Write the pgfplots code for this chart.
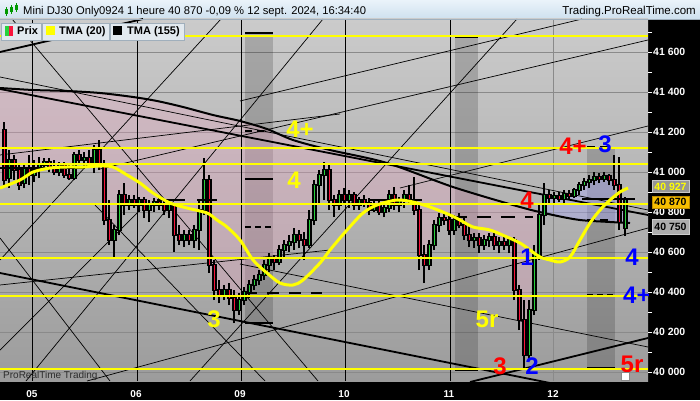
\documentclass[border=0pt]{standalone}
\usepackage{fontspec}
\setmainfont{Liberation Sans}
\usepackage{pgfplots}
\pgfplotsset{compat=1.18}
\usepackage{pgfplotstable}

\definecolor{bgtop}{RGB}{203,203,203}
\definecolor{bgbot}{RGB}{156,156,156}
\definecolor{hdtop}{RGB}{234,243,250}
\definecolor{hdbot}{RGB}{206,224,238}
\definecolor{legbg}{RGB}{226,233,239}
\definecolor{legbd}{RGB}{160,175,188}
\definecolor{gridc}{RGB}{138,138,138}
\definecolor{pinkc}{RGB}{236,168,196}
\definecolor{lavc}{RGB}{168,168,250}
\definecolor{cred}{RGB}{250,20,60}
\definecolor{cgreen}{RGB}{40,210,60}
\definecolor{ylw}{RGB}{255,255,0}
\definecolor{rd}{RGB}{255,0,0}
\definecolor{bl}{RGB}{0,0,255}

% hourly candles: x (time position), open, high, low, close
\pgfplotstableread{
x o h l c
4 41210 41250 40935 40960
9 40970 41110 40920 41060
14 41060 41085 40960 41010
19 41010 41035 40910 40935
24 40945 41035 40920 41020
29 41020 41085 40935 40985
34 40985 41060 40950 41010
39 41010 41075 40970 41035
44 41035 41070 41010 41050
49 41050 41070 41000 41020
54 41020 41060 40985 41000
59 41000 41050 40980 41035
64 41035 41050 40970 40985
69 40985 41035 40960 40970
74 40970 41100 40960 41085
79 41085 41110 41035 41060
84 41060 41100 41030 41070
89 41070 41110 41020 41035
94 41035 41135 40995 41110
99 41110 41160 41010 41035
104 41035 41060 40735 40760
109 40760 40860 40635 40660
114 40660 40735 40575 40710
119 40710 40910 40685 40885
124 40885 40945 40785 40835
129 40835 40885 40810 40860
134 40860 40885 40820 40835
139 40835 40875 40800 40860
144 40860 40875 40770 40810
149 40810 40860 40750 40835
154 40835 40870 40800 40850
159 40850 40870 40810 40835
164 40835 40860 40785 40810
169 40810 40860 40770 40835
174 40835 40845 40600 40685
179 40685 40735 40635 40660
184 40660 40710 40625 40685
189 40685 40710 40635 40660
194 40660 40735 40620 40710
199 40710 40860 40610 40810
204 40810 41070 40785 40960
209 40960 40985 40495 40535
214 40535 40560 40360 40410
219 40410 40460 40345 40385
224 40385 40435 40360 40410
229 40410 40445 40335 40370
234 40370 40410 40245 40310
239 40310 40395 40285 40360
244 40360 40425 40335 40400
249 40400 40460 40370 40435
254 40435 40485 40410 40460
259 40460 40510 40435 40485
264 40485 40560 40460 40535
269 40535 40595 40500 40570
274 40570 40585 40510 40550
279 40550 40635 40535 40610
284 40610 40660 40570 40635
289 40635 40685 40600 40650
294 40650 40720 40610 40685
299 40685 40710 40620 40660
304 40660 40700 40560 40635
309 40635 40810 40620 40760
314 40760 40960 40735 40935
319 40935 41010 40835 40985
324 40985 41050 40860 41010
329 41010 41035 40810 40860
334 40860 40885 40775 40835
339 40835 40910 40810 40885
344 40885 40920 40835 40860
349 40860 40910 40820 40885
354 40885 40900 40810 40835
359 40835 40875 40810 40860
364 40860 40885 40825 40845
369 40845 40870 40785 40810
374 40810 40860 40800 40835
379 40835 40860 40785 40800
384 40800 40845 40775 40820
389 40820 40910 40800 40885
394 40885 40925 40810 40835
399 40835 40875 40800 40860
404 40860 40910 40820 40885
409 40885 40935 40835 40860
414 40860 40975 40785 40810
419 40810 40835 40510 40585
424 40585 40635 40445 40535
429 40535 40660 40510 40635
434 40635 40760 40610 40735
439 40735 40795 40700 40770
444 40770 40795 40735 40760
449 40760 40785 40685 40710
454 40710 40785 40685 40760
459 40760 40795 40720 40735
464 40735 40770 40660 40685
469 40685 40735 40625 40660
474 40660 40695 40620 40670
479 40670 40695 40595 40635
484 40635 40685 40610 40660
489 40660 40695 40625 40675
494 40675 40695 40610 40635
499 40635 40675 40595 40650
504 40650 40675 40610 40635
509 40635 40675 40595 40660
514 40660 40675 40360 40410
519 40410 40435 40210 40260
524 40260 40360 40020 40085
529 40085 40360 40060 40310
534 40310 40635 40285 40585
539 40585 40835 40560 40785
544 40785 40945 40735 40885
549 40885 40910 40835 40870
554 40870 40900 40845 40880
559 40880 40900 40850 40865
564 40865 40910 40845 40890
569 40890 40910 40860 40880
574 40880 40920 40870 40910
579 40910 40950 40885 40935
584 40935 40970 40910 40950
589 40950 40985 40920 40960
594 40960 41000 40935 40975
599 40975 40995 40945 40965
604 40965 41000 40950 40980
609 40980 40990 40935 40960
614 40960 41085 40910 40935
619 40935 41075 40710 40750
625 40720 40875 40680 40865
}\candles

\newcommand{\lbl}{\bfseries\fontsize{24}{24}\selectfont}

\begin{document}
\begin{tikzpicture}
\begin{scope}[x=1pt,y=1pt]
\fill[black] (648,19) rectangle (700,381);
\fill[black] (0,0) rectangle (700,19);
\shade[top color=hdtop, bottom color=hdbot] (0,381) rectangle (700,400);
\end{scope}

\begin{axis}[
  at={(0pt,19pt)}, anchor=south west,
  scale only axis, width=648pt, height=362pt,
  xmin=0, xmax=648, ymin=39955, ymax=41765,
  axis background/.style={shade, top color=bgtop, bottom color=bgbot},
  axis line style={draw=none},
  scaled y ticks=false, scaled x ticks=false,
  xtick={32,136,240,344,449,553},
  xticklabels={05,06,09,10,11,12},
  xtick style={draw=none},
  xticklabel style={text=white, font=\bfseries\fontsize{10}{10}\selectfont, inner sep=0pt, yshift=-5pt},
  ytick={40000,40200,...,41600},
  yticklabels={40 000,40 200,40 400,40 600,40 800,41 000,41 200,41 400,41 600},
  minor ytick={40100,40300,...,41700},
  ytick pos=right, yticklabel pos=right,
  tick align=outside, major tick length=4pt, minor tick length=4pt,
  every tick/.style={white, line width=0.8pt},
  yticklabel style={text=white, font=\bfseries\fontsize{10.5}{10.5}\selectfont, anchor=west, inner sep=1pt},
  ymajorgrids, major grid style={gridc, line width=0.6pt},
]

% shaded time bands
\addplot[fill=black, fill opacity=0.17, draw=none] coordinates {(245,40245) (273,40245) (273,41695) (245,41695)} --cycle;
\addplot[fill=black, fill opacity=0.17, draw=none] coordinates {(455,40010) (478,40010) (478,41675) (455,41675)} --cycle;
\addplot[fill=black, fill opacity=0.17, draw=none] coordinates {(587,40020) (615,40020) (615,41125) (587,41125)} --cycle;

% cloud between TMA (155) and price: below the average
\addplot[fill=pinkc, fill opacity=0.33, draw=none] coordinates {
(0,41420) (33,41410) (67,41405) (100,41395) (133,41375) (157,41355) (183,41325)
(213,41285) (240,41255) (267,41215) (293,41160) (330,41110) (387,41045) (453,40925)
(520,40825) (540,40800)
(539,40785) (534,40585) (529,40310) (524,40085) (519,40260) (514,40410) (509,40660)
(504,40635) (499,40650) (494,40635) (489,40675) (484,40660) (479,40635) (474,40670)
(469,40660) (464,40685) (459,40735) (454,40760) (449,40710) (444,40760) (439,40770)
(434,40735) (429,40635) (424,40535) (419,40585) (414,40810) (409,40860) (404,40885)
(399,40860) (394,40835) (389,40885) (384,40820) (379,40800) (374,40835) (369,40810)
(364,40845) (359,40860) (354,40835) (349,40885) (344,40860) (339,40885) (334,40835)
(329,40860) (324,41010) (319,40985) (314,40935) (309,40760) (304,40635) (299,40660)
(294,40685) (289,40650) (284,40635) (279,40610) (274,40550) (269,40570) (264,40535)
(259,40485) (254,40460) (249,40435) (244,40400) (239,40360) (234,40310) (229,40370)
(224,40410) (219,40385) (214,40410) (209,40535) (204,40960) (199,40810) (194,40710)
(189,40660) (184,40685) (179,40660) (174,40685) (169,40835) (164,40810) (159,40835)
(154,40850) (149,40835) (144,40810) (139,40860) (134,40835) (129,40860) (124,40835)
(119,40885) (114,40710) (109,40660) (104,40760) (99,41035) (94,41110) (89,41035)
(84,41070) (79,41060) (74,41085) (69,40970) (64,40985) (59,41035) (54,41000)
(49,41020) (44,41050) (39,41035) (34,41010) (29,40985) (24,41020) (19,40935)
(14,41010) (9,41060) (4,40960) (0,40960)} --cycle;
% cloud above the average
\addplot[fill=lavc, fill opacity=0.4, draw=none] coordinates {
(540,40800) (544,40885) (549,40870) (554,40880) (559,40865) (564,40890) (569,40880)
(574,40910) (579,40935) (584,40950) (589,40960) (594,40975) (599,40965) (604,40980)
(609,40960) (614,40935) (619,40750) (625,40865) (630,40745) (610,40750) (580,40760)
(553,40785)} --cycle;

% day separators
\addplot[black, line width=0.8pt] coordinates {(32,39955) (32,41765)};
\addplot[black, line width=0.8pt] coordinates {(137,39955) (137,41765)};
\addplot[black, line width=0.8pt] coordinates {(241,39955) (241,41765)};
\addplot[black, line width=0.8pt] coordinates {(345,39955) (345,41765)};
\addplot[black, line width=0.8pt] coordinates {(450,39955) (450,41765)};
\addplot[gridc, line width=0.8pt] coordinates {(553,39955) (553,41765)};

% thin trend / fan lines
\pgfplotsset{thin line/.style={black, line width=0.7pt}}
\addplot[thin line] coordinates {(12,41765) (318,39955)};
\addplot[thin line] coordinates {(0,40560) (221,41765)};
\addplot[thin line] coordinates {(26,39955) (323,41765)};
\addplot[thin line] coordinates {(190,39955) (517,41765)};
\addplot[thin line] coordinates {(0,41085) (340,41290)};
\addplot[thin line] coordinates {(100,41015) (648,41660)};
\addplot[thin line] coordinates {(240,41355) (582,41765)};
\addplot[thin line] coordinates {(400,40920) (648,41230)};
\addplot[thin line] coordinates {(0,40670) (110,39955)};
\addplot[thin line] coordinates {(87,39955) (648,40720)};
\addplot[thin line] coordinates {(240,40540) (648,40125)};
\addplot[thin line] coordinates {(0,41475) (648,40810)};
\addplot[thin line] coordinates {(95,40835) (265,39955)};
\addplot[thin line] coordinates {(0,40110) (140,40810)};
\addplot[thin line] coordinates {(0,40435) (330,40610)};

% thick trend lines and TMA (155)
\addplot[black, line width=1.8pt] coordinates {(0,41415) (648,40785)};
\addplot[black, line width=1.8pt] coordinates {(0,40495) (560,39935)};
\addplot[black, line width=1.8pt] coordinates {(470,39950) (648,40170)};
\addplot[black, line width=1.8pt] coordinates {(0,41600) (143,41765)};
\addplot[black, line width=2pt, smooth] coordinates {
(0,41420) (33,41410) (67,41405) (100,41395) (133,41375) (157,41355) (183,41325)
(213,41285) (240,41255) (267,41215) (293,41160) (330,41110) (387,41045) (453,40925)
(520,40825) (553,40785) (580,40760) (610,40750) (630,40745)};

% candles: wicks, bodies, coloured cores
\addplot[draw=none, mark=none, error bars/.cd, y dir=plus, y explicit, error mark=none,
  error bar style={draw=black, line width=2.3pt}]
  table[x=x, y=l, y error expr=\thisrow{h}-\thisrow{l}] {\candles};
\addplot[draw=none, mark=none, error bars/.cd, y dir=plus, y explicit, error mark=none,
  error bar style={draw=black, line width=5pt}]
  table[x=x, y expr={min(\thisrow{o},\thisrow{c})-5}, y error expr={abs(\thisrow{o}-\thisrow{c})+10}] {\candles};
\addplot[draw=none, mark=none, error bars/.cd, y dir=plus, y explicit, error mark=none,
  error bar style={draw=cred, line width=1pt}]
  table[x=x, y=c, y error expr={max(\thisrow{o}-\thisrow{c},0)}] {\candles};
\addplot[draw=none, mark=none, error bars/.cd, y dir=plus, y explicit, error mark=none,
  error bar style={draw=cgreen, line width=1pt}]
  table[x=x, y=o, y error expr={max(\thisrow{c}-\thisrow{o},0)}] {\candles};

% black level bars
\pgfplotsset{lvl/.style={black, line width=2.5pt}}
\addplot[lvl] coordinates {(0,41020) (85,41020)};
\addplot[lvl] coordinates {(157,40860) (185,40860)};
\addplot[lvl] coordinates {(197,40860) (217,40860)};
\addplot[lvl] coordinates {(368,40860) (422,40860)};
\addplot[lvl] coordinates {(582,40865) (635,40865)};
\addplot[lvl] coordinates {(245,41695) (273,41695)};
\addplot[lvl, dash pattern=on 7pt off 5pt] coordinates {(245,41205) (264,41205)};
\addplot[lvl] coordinates {(245,40965) (273,40965)};
\addplot[lvl, dash pattern=on 6pt off 4pt] coordinates {(245,40725) (273,40725)};
\addplot[lvl, dash pattern=on 12pt off 10pt] coordinates {(245,40395) (322,40395)};
\addplot[lvl] coordinates {(245,40245) (273,40245)};
\addplot[lvl] coordinates {(455,41675) (478,41675)};
\addplot[lvl, dash pattern=on 6pt off 6pt] coordinates {(455,41120) (474,41120)};
\addplot[lvl, dash pattern=on 14pt off 10pt] coordinates {(453,40775) (533,40775)};
\addplot[lvl, dash pattern=on 6pt off 6pt] coordinates {(455,40570) (474,40570)};
\addplot[lvl] coordinates {(455,40010) (478,40010)};
\addplot[lvl, dash pattern=on 8pt off 5pt] coordinates {(587,41125) (608,41125)};
\addplot[lvl, dash pattern=on 8pt off 5pt] coordinates {(587,40760) (612,40760)};
\addplot[lvl] coordinates {(587,40570) (615,40570)};
\addplot[lvl, dash pattern=on 6pt off 4pt] coordinates {(587,40385) (614,40385)};
\addplot[lvl] coordinates {(587,40020) (615,40020)};

% yellow horizontal levels
\addplot[ylw, line width=1.2pt] coordinates {(0,41680) (648,41680)};
\addplot[ylw, line width=1.2pt] coordinates {(0,41120) (648,41120)};
\addplot[ylw, line width=1.2pt] coordinates {(0,41040) (648,41040)};
\addplot[ylw, line width=2pt] coordinates {(0,40840) (648,40840)};
\addplot[ylw, line width=1.2pt] coordinates {(0,40570) (648,40570)};
\addplot[ylw, line width=1.2pt] coordinates {(0,40380) (648,40380)};
\addplot[ylw, line width=1.2pt] coordinates {(0,40015) (648,40015)};

% TMA (20)
\addplot[ylw, line width=3pt, smooth] coordinates {
(0,40920) (20,40960) (33,41000) (50,41020) (67,41025) (83,41025) (100,41030)
(113,41025) (127,40985) (140,40945) (153,40895) (170,40845) (187,40820) (207,40795)
(217,40760) (227,40725) (240,40660) (253,40560) (267,40495) (280,40445) (293,40435)
(303,40460) (320,40545) (330,40610) (347,40710) (363,40795) (377,40835) (397,40860)
(413,40850) (430,40825) (450,40785) (460,40760) (473,40725) (490,40710) (507,40675)
(520,40645) (530,40610) (540,40575) (550,40560) (560,40550) (570,40575) (580,40660)
(590,40745) (600,40810) (610,40860) (620,40900) (628,40920)};

% wave labels
\node[text=ylw, font=\lbl] at (axis cs:300,41215) {4+};
\node[text=ylw, font=\lbl] at (axis cs:294,40960) {4};
\node[text=ylw, font=\lbl] at (axis cs:214,40265) {3};
\node[text=ylw, font=\lbl] at (axis cs:487,40265) {5r};
\node[text=rd, font=\lbl] at (axis cs:527,40860) {4};
\node[text=rd, font=\lbl] at (axis cs:573,41130) {4+};
\node[text=bl, font=\lbl] at (axis cs:605,41140) {3};
\node[text=bl, font=\lbl] at (axis cs:527,40575) {1};
\node[text=bl, font=\lbl] at (axis cs:632,40575) {4};
\node[text=bl, font=\lbl, anchor=west, inner sep=0pt] at (axis cs:623,40385) {4+};
\node[text=rd, font=\lbl] at (axis cs:500,40030) {3};
\node[text=bl, font=\lbl] at (axis cs:532,40030) {2};
\node[text=rd, font=\lbl] at (axis cs:632,40040) {5r};
\end{axis}

\begin{scope}[x=1pt,y=1pt]
% header
\draw[legbd, line width=0.6pt] (0,381) -- (700,381);
\fill[green!60!black] (5,386) rectangle (7.5,391);
\fill[green!60!black] (10,388) rectangle (12.5,393);
\fill[green!60!black] (15,390) rectangle (17.5,395);
\draw[green!60!black, line width=0.5pt] (6.25,384) -- (6.25,393) (11.25,386) -- (11.25,395) (16.25,388) -- (16.25,397);
\node[anchor=base west, inner sep=0pt, font=\fontsize{11.2}{11.2}\selectfont] at (23,385) {Mini DJ30 Only0924 1 heure 40 870 -0,09 \% 12 sept. 2024, 16:34:40};
\node[anchor=base east, inner sep=0pt, font=\fontsize{11.5}{11.5}\selectfont] at (696,385) {Trading.ProRealTime.com};
% legend boxes
\draw[fill=legbg, draw=legbd, line width=0.6pt] (1,360) rectangle (41,377);
\draw[fill=legbg, draw=legbd, line width=0.6pt] (42,360) rectangle (109,377);
\draw[fill=legbg, draw=legbd, line width=0.6pt] (110,360) rectangle (184,377);
\fill[cgreen] (5,364) rectangle (9,374);
\fill[cred] (9,364) rectangle (13,374);
\fill[ylw] (46,364.5) rectangle (55,373.5);
\fill[black] (113,364.5) rectangle (122,373.5);
\node[anchor=base west, inner sep=0pt, font=\bfseries\fontsize{11}{11}\selectfont] at (17,365) {Prix};
\node[anchor=base west, inner sep=0pt, font=\bfseries\fontsize{11}{11}\selectfont] at (59,365) {TMA (20)};
\node[anchor=base west, inner sep=0pt, font=\bfseries\fontsize{11}{11}\selectfont] at (127,365) {TMA (155)};
% watermark
\node[anchor=west, inner sep=0pt, text={rgb,255:red,45;green,45;blue,45}, font=\fontsize{10}{10}\selectfont] at (3,24) {ProRealTime Trading};
\draw[fill=white, draw=gridc] (621,20) rectangle (629,28);
% price flags on the scale
\draw[fill={rgb,255:red,150;green,150;blue,150}, draw={rgb,255:red,200;green,200;blue,200}] (652,207.5) rectangle (689,219.5);
\node[text=ylw, font=\bfseries\fontsize{10.5}{10.5}\selectfont, inner sep=0pt] at (670.5,213.5) {40 927};
\draw[fill={rgb,255:red,245;green,190;blue,0}, draw={rgb,255:red,190;green,140;blue,0}] (652,191.5) rectangle (689,204);
\node[text=black, font=\bfseries\fontsize{10.5}{10.5}\selectfont, inner sep=0pt] at (670.5,197.8) {40 870};
\draw[fill={rgb,255:red,172;green,172;blue,172}, draw={rgb,255:red,205;green,205;blue,205}] (652,166) rectangle (689,181);
\node[text=black, font=\bfseries\fontsize{10.5}{10.5}\selectfont, inner sep=0pt] at (670.5,173.5) {40 750};
\end{scope}
\pgfresetboundingbox
\useasboundingbox (0,0) rectangle (700pt,400pt);
\end{tikzpicture}
\end{document}
